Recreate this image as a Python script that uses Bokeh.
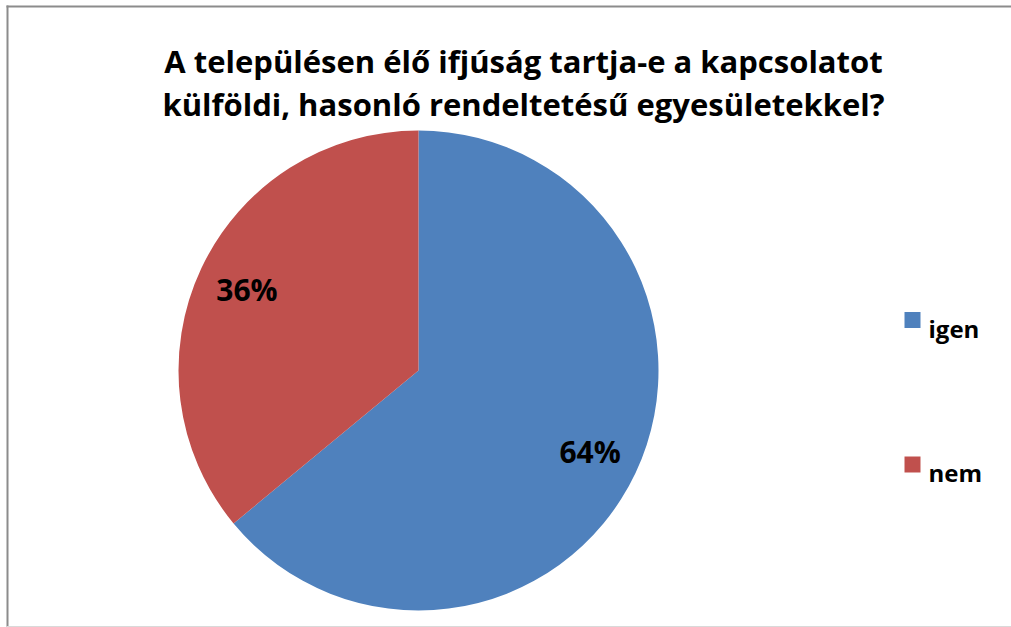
import math
from bokeh.plotting import figure
from bokeh.models import ColumnDataSource, Range1d
from bokeh.core.properties import value
from bokeh.embed import file_html
from bokeh.resources import INLINE

categories = ["igen", "nem"]
shares = [64, 36]
colors = ["#4F81BD", "#C0504D"]
title_lines = ["A településen élő ifjúság tartja-e a kapcsolatot",
               "külföldi, hasonló rendeltetésű egyesületekkel?"]

W, H = 1011, 627
FONT = "Open Sans"

def Y(py):
    return H - py

p = figure(width=W, height=H, output_backend="svg", toolbar_location=None,
           x_range=Range1d(0, W), y_range=Range1d(0, H), min_border=0)
p.axis.visible = False
p.grid.visible = False
p.outline_line_color = None

# chart frame (left, top, faint bottom)
p.line(x=[7, 7], y=[Y(5), Y(640)], line_color="#8c8c8c", line_width=2)
p.line(x=[6, 1020], y=[Y(6), Y(6)], line_color="#8c8c8c", line_width=2)
p.line(x=[6, 1020], y=[Y(626), Y(626)], line_color="#d9d9d9", line_width=1)

cx, cy, R = 418, Y(370), 240
total = sum(shares)
starts, ends, lx, ly, labels = [], [], [], [], []
ang = math.pi / 2
for s in shares:
    sweep = 2 * math.pi * s / total
    a0, a1 = ang - sweep, ang
    starts.append(a0)
    ends.append(a1)
    mid = (a0 + a1) / 2
    lx.append(cx + 0.79 * R * math.cos(mid))
    ly.append(cy + 0.79 * R * math.sin(mid))
    labels.append(f"{round(100 * s / total)}%")
    ang = a0

src = ColumnDataSource(dict(start=starts, end=ends, color=colors,
                            lx=lx, ly=ly, label=labels))
p.wedge(x=cx, y=cy, radius=R, start_angle="start", end_angle="end",
        fill_color="color", line_color="white", line_width=0, source=src)
p.text(x="lx", y="ly", text="label", source=src, text_font=value(FONT),
       text_font_style="bold", text_font_size="30px", text_align="center",
       text_baseline="middle", text_color="black")

# title
p.text(x=[523, 523], y=[Y(60), Y(103)], text=title_lines, text_font=value(FONT),
       text_font_style="bold", text_font_size="31px", text_align="center",
       text_baseline="alphabetic", text_color="black")

# legend
leg_y = [Y(319.5), Y(464)]
p.rect(x=[912] * 2, y=leg_y, width=16, height=16, fill_color=colors, line_color=None)
p.text(x=[928] * 2, y=[v - 8 for v in leg_y], text=categories, text_font=value(FONT),
       text_font_style="bold", text_font_size="24px", text_align="left",
       text_baseline="alphabetic", text_color="black")

open("out.html", "w").write(file_html(p, INLINE))
